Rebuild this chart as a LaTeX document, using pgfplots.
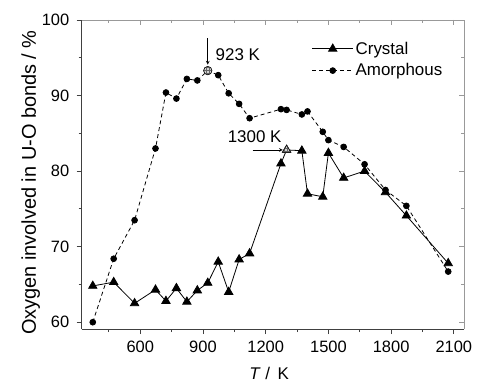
\documentclass[border=0pt]{standalone}
\usepackage{fontspec}
\setmainfont{Liberation Sans}
\usepackage{pgfplots}
\pgfplotsset{compat=1.18}
\usetikzlibrary{patterns}
\begin{document}
\begin{tikzpicture}
\path[use as bounding box] (-81.7bp,-61bp) rectangle (396.3bp,329bp);
\pgfplotsset{
 common/.style={width=382.6bp,height=309bp,scale only axis,at={(0,0)},anchor=south west,
  xmin=320,xmax=2150,ymin=59.1,ymax=100,
  xtick={600,900,...,2100}, minor xtick={450,750,...,1950},
  ytick={60,70,...,100}, minor ytick={65,75,85,95},
  major tick length=5bp, minor tick length=3bp,
  /pgf/number format/1000 sep={},
 }
}
\begin{axis}[common, axis x line*=top, axis y line*=right, tick align=inside,
  xticklabels={}, yticklabels={}, axis line style={-, draw=gray!80, line width=0.8bp}, tick style={draw=gray!80, line width=0.8bp}]
\end{axis}
\begin{axis}[common, axis x line*=bottom, axis y line*=left, tick align=outside,
  axis line style={-, draw=black!75, line width=0.8bp}, tick style={draw=black!75, line width=0.8bp},
  /pgf/number format/assume math mode=true,
  tick label style={font=\fontsize{16.5}{19}\selectfont},
  xticklabel style={yshift=-4bp},
  yticklabel style={xshift=-4bp},
  xlabel={\textit{T} / \,K}, ylabel={Oxygen involved in U-O bonds / \%},
  every axis x label/.style={at={(axis description cs:0.49,-0.1424)},anchor=center,font=\fontsize{17}{20}\selectfont},
  every axis y label/.style={at={(axis description cs:-0.1333,0.474)},anchor=center,rotate=90,font=\fontsize{20}{24}\selectfont},
  legend style={draw=none, fill=none, at={(0.601,0.936)}, anchor=north west, font=\fontsize{17}{20}\selectfont, row sep=4bp, inner sep=0pt},
  legend cell align=left,
  legend image code/.code={\draw[mark repeat=2,mark phase=2,#1] plot coordinates {(0bp,0bp)(20.5bp,0bp)(41bp,0bp)};},
  clip=false]
\addplot[black, line width=0.8bp, mark=triangle*, mark size=4.8bp, mark options={solid, fill=black}] coordinates {
(373,64.8)(473,65.3)(573,62.5)(673,64.3)(723,62.8)(773,64.5)(823,62.7)(873,64.2)(923,65.2)(973,68.0)(1023,64.0)(1073,68.3)(1123,69.1)(1273,81.0)(1300,82.8)(1373,82.7)(1400,77.0)(1473,76.6)(1500,82.4)(1573,79.1)(1673,80.0)(1773,77.2)(1873,74.1)(2073,67.8)};
\addlegendentry{Crystal}
\addplot[black, line width=0.8bp, dash pattern=on 4bp off 3bp, mark=*, mark size=2.9bp, mark options={solid, fill=black}] coordinates {
(373,60.0)(473,68.4)(573,73.5)(673,83.0)(723,90.4)(773,89.6)(823,92.2)(873,92.0)(923,93.3)(973,92.7)(1023,90.3)(1073,88.9)(1123,87.0)(1273,88.2)(1300,88.1)(1373,87.5)(1400,87.9)(1473,85.2)(1500,84.1)(1573,83.2)(1673,80.9)(1773,77.5)(1873,75.4)(2073,66.7)};
\addlegendentry{Amorphous}
\addplot[forget plot, only marks, mark=*, mark size=4.2bp, mark options={draw=black!70, fill=gray!35, line width=0.6bp}] coordinates {(923,93.3)};
\addplot[forget plot, only marks, mark=*, mark size=4.2bp, mark options={draw=none, pattern=grid, pattern color=black!60}] coordinates {(923,93.3)};
\addplot[forget plot, only marks, mark=triangle*, mark size=4.8bp, mark options={draw=black!70, fill=gray!35, line width=0.6bp}] coordinates {(1300,82.8)};
\addplot[forget plot, only marks, mark=triangle*, mark size=4.8bp, mark options={draw=none, pattern=grid, pattern color=black!60}] coordinates {(1300,82.8)};
\draw[-stealth, line width=0.7bp] (axis cs:923,97.6) -- (axis cs:923,94.1);
\node[anchor=west, font=\fontsize{17}{20}\selectfont, inner sep=0pt] at (axis cs:960,95.4) {923 K};
\draw[-stealth, line width=0.7bp] (axis cs:1138,82.8) -- (axis cs:1282,82.8);
\node[anchor=center, font=\fontsize{17}{20}\selectfont, inner sep=0pt] at (axis cs:1147,84.5) {1300 K};
\end{axis}
\end{tikzpicture}
\end{document}
